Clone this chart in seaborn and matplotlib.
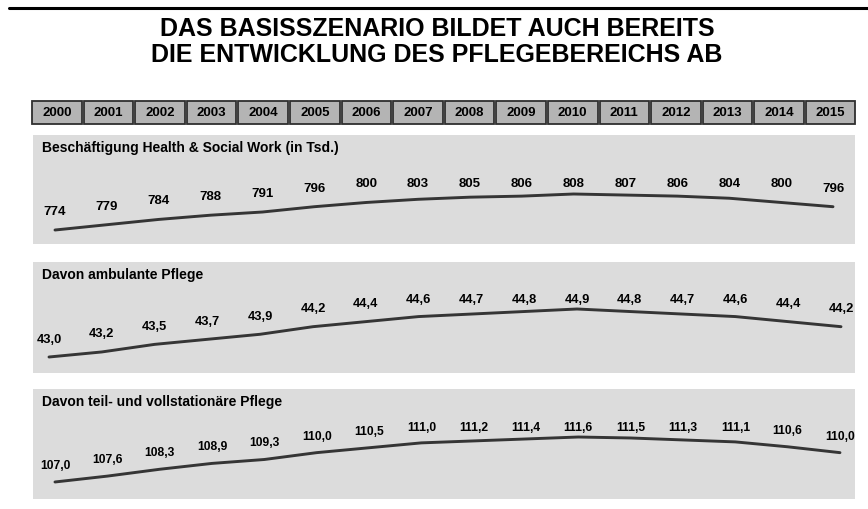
import matplotlib
matplotlib.use("Agg")
import matplotlib.pyplot as plt
from matplotlib.patches import Rectangle
from matplotlib.lines import Line2D
import seaborn as sns
import pandas as pd
import numpy as np

# ---------------- data ----------------
years = ["2000", "2001", "2002", "2003", "2004", "2005", "2006", "2007",
         "2008", "2009", "2010", "2011", "2012", "2013", "2014", "2015"]
beschaeftigung = [774, 779, 784, 788, 791, 796, 800, 803,
                  805, 806, 808, 807, 806, 804, 800, 796]
ambulant = [43.0, 43.2, 43.5, 43.7, 43.9, 44.2, 44.4, 44.6,
            44.7, 44.8, 44.9, 44.8, 44.7, 44.6, 44.4, 44.2]
stationaer = [107.0, 107.6, 108.3, 108.9, 109.3, 110.0, 110.5, 111.0,
              111.2, 111.4, 111.6, 111.5, 111.3, 111.1, 110.6, 110.0]
panel_titles = ["Beschäftigung Health & Social Work (in Tsd.)",
                "Davon ambulante Pflege",
                "Davon teil- und vollstationäre Pflege"]
title_lines = ["DAS BASISSZENARIO BILDET AUCH BEREITS",
               "DIE ENTWICKLUNG DES PFLEGEBEREICHS AB"]

# ---------------- style ----------------
sns.set_theme(style="white")
plt.rcParams["font.family"] = ["Liberation Sans", "DejaVu Sans"]

W, H = 868, 509
fig = plt.figure(figsize=(W / 100, H / 100), dpi=100)
fig.patch.set_facecolor("white")


def px_axes(x, y, w, h):
    return fig.add_axes([x / W, 1 - (y + h) / H, w / W, h / H])


# top rule
fig.add_artist(Line2D([9 / W, 1.0], [1 - 8 / H, 1 - 8 / H],
                      color="black", lw=2.2, transform=fig.transFigure))

# title
for k, t in enumerate(title_lines):
    fig.text(437 / W, 1 - (29 + 26.5 * k) / H, t, ha="center", va="center",
             fontsize=18, fontweight="bold", color="black")

# year header boxes
hax = px_axes(32, 101, 824, 23)
hax.set_xlim(-0.48, 15.49)
hax.set_ylim(0, 1)
hax.axis("off")
for i, yr in enumerate(years):
    hax.add_patch(Rectangle((i - 0.48, 0), 0.96, 1, facecolor="#b4b4b4",
                            edgecolor="#2e2e2e", lw=1.3, clip_on=False))
    hax.text(i, 0.5, yr, ha="center", va="center", fontsize=9.5,
             fontweight="bold", color="black")

# panels: (series, axes rect, xlim, ylim, cap value, label offset px, fontsize, fmt)
panels = [
    (beschaeftigung, (33, 135, 822, 109), (-0.424, 15.424), (760.8, 863.7),
     800.4, 18, 9.5, lambda v: f"{v:.0f}"),
    (ambulant, (33, 262, 822, 111), (-0.303, 15.265), (42.367, 46.76),
     44.57, 17.5, 9.3, lambda v: f"{v:.1f}".replace(".", ",")),
    (stationaer, (33, 389, 822, 110), (-0.42, 15.287), (105.26, 116.51),
     110.9, 16, 8.7, lambda v: f"{v:.1f}".replace(".", ",")),
]

for (vals, rect, xl, yl, cap, off, fs, fmt), ttl in zip(panels, panel_titles):
    ax = px_axes(*rect)
    ax.set_facecolor("#dcdcdc")
    df = pd.DataFrame({"x": np.arange(len(years)), "v": vals})
    sns.lineplot(data=df, x="x", y="v", ax=ax, color="#353535", lw=2.1)
    ax.set_xlim(*xl)
    ax.set_ylim(*yl)
    for s in ax.spines.values():
        s.set_visible(False)
    ax.set_xticks([])
    ax.set_yticks([])
    ax.set_xlabel("")
    ax.set_ylabel("")
    for i, v in enumerate(vals):
        ax.annotate(fmt(v), xy=(i, min(v, cap)), xytext=(0, off * 0.72),
                    textcoords="offset points", ha="center", va="center",
                    fontsize=fs, fontweight="bold", color="black")
    ax.text(9 / rect[2], 1 - 13 / rect[3], ttl, transform=ax.transAxes,
            ha="left", va="center", fontsize=10, fontweight="bold",
            color="black")

fig.savefig("out.png", dpi=100, facecolor="white")
